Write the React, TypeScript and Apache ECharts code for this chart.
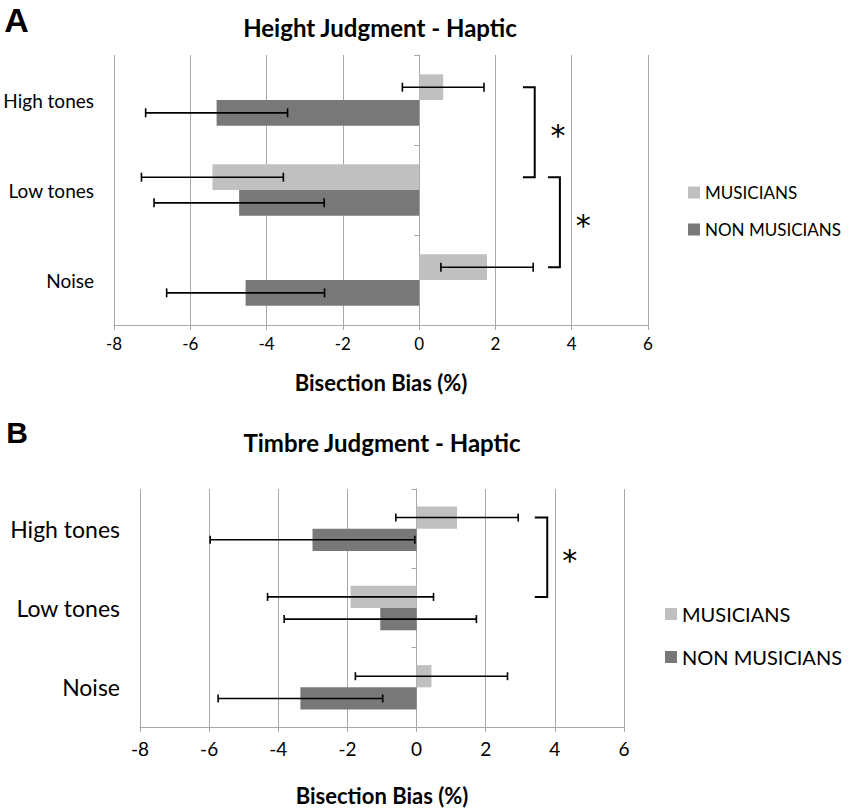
import React, { useEffect, useRef } from "react";
import * as echarts from "echarts";

const CATEGORIES = ["High tones", "Low tones", "Noise"];
const GROUPS = ["MUSICIANS", "NON MUSICIANS"];
const X_MIN = -8;
const X_MAX = 6;
const X_STEP = 2;

// Panel A: Height Judgment - Haptic
const A_MUS = [0.63, -5.42, 1.78];
const A_MUS_ERR = [1.07, 1.86, 1.21];
const A_NON = [-5.31, -4.72, -4.55];
const A_NON_ERR = [1.86, 2.23, 2.07];
// significance brackets: [fromCategory, toCategory, lineX, tipX, starX]
const A_SIG = [
  [0, 1, 3.03, 2.72, 3.64],
  [1, 2, 3.69, 3.38, 4.3],
];

// Panel B: Timbre Judgment - Haptic
const B_MUS = [1.17, -1.91, 0.43];
const B_MUS_ERR = [1.77, 2.4, 2.2];
const B_NON = [-3.01, -1.05, -3.36];
const B_NON_ERR = [2.96, 2.78, 2.38];
const B_SIG = [[0, 1, 3.78, 3.42, 4.43]];

const LIGHT = "#c0c0c0";
const DARK = "#787878";
const GRIDC = "#a8a8a8";
const FONT = "Lato, 'Open Sans', sans-serif";

function errRender(slot: number, gap: number, cap: number) {
  return (params: any, api: any) => {
    const v = api.value(0);
    const c = api.value(1);
    const e = api.value(2);
    const band = Math.abs(api.size([0, 1])[1]);
    const bw = (band * (1 - gap)) / 2;
    const off = -bw + bw * (slot + 0.5);
    const a = api.coord([v - e, c]);
    const b = api.coord([v + e, c]);
    const y = a[1] + off;
    const st = { stroke: "#000", lineWidth: 1.6 };
    return {
      type: "group",
      children: [
        { type: "line", shape: { x1: a[0], y1: y, x2: b[0], y2: y }, style: st },
        { type: "line", shape: { x1: a[0], y1: y - cap, x2: a[0], y2: y + cap }, style: st },
        { type: "line", shape: { x1: b[0], y1: y - cap, x2: b[0], y2: y + cap }, style: st },
      ],
    };
  };
}

function sigRender(gap: number, starSize: number) {
  return (params: any, api: any) => {
    const from = api.value(0);
    const to = api.value(1);
    const lx = api.value(2);
    const tx = api.value(3);
    const sx = api.value(4);
    const band = Math.abs(api.size([0, 1])[1]);
    const bw = (band * (1 - gap)) / 2;
    const off = -bw / 2;
    const p1 = api.coord([lx, from]);
    const p2 = api.coord([lx, to]);
    const pt = api.coord([tx, from]);
    const ps = api.coord([sx, from]);
    const y1 = p1[1] + off;
    const y2 = p2[1] + off;
    return {
      type: "group",
      children: [
        {
          type: "polyline",
          shape: { points: [[pt[0], y1], [p1[0], y1], [p1[0], y2], [pt[0], y2]] },
          style: { stroke: "#000", lineWidth: 2, fill: "none" },
        },
        {
          type: "text",
          x: ps[0],
          y: (y1 + y2) / 2 + starSize * 0.12,
          style: {
            text: "*",
            fontSize: starSize,
            fontFamily: "'DejaVu Sans', sans-serif",
            fill: "#000",
            align: "center",
            verticalAlign: "middle",
          },
        },
      ],
    };
  };
}

type PanelCfg = {
  mus: number[];
  musErr: number[];
  non: number[];
  nonErr: number[];
  sig: number[][];
  gap: number;
  cap: number;
  labelSize: number;
  tickSize: number;
  tickMargin: number;
  nameSize: number;
  nameGap: number;
  starSize: number;
};

function buildPanel(i: number, p: PanelCfg) {
  const xAxis = {
    gridIndex: i,
    type: "value",
    min: X_MIN,
    max: X_MAX,
    interval: X_STEP,
    name: "Bisection Bias (%)",
    nameLocation: "middle",
    nameGap: p.nameGap,
    nameTextStyle: { fontSize: p.nameSize, fontWeight: "bold", color: "#000", fontFamily: FONT },
    axisLine: { show: true, lineStyle: { color: GRIDC, width: 1 } },
    axisTick: { show: true, length: 5, lineStyle: { color: GRIDC } },
    axisLabel: { fontSize: p.tickSize, color: "#000", margin: p.tickMargin, fontFamily: FONT },
    splitLine: { show: true, lineStyle: { color: GRIDC, width: 1 } },
  };
  const yLabel = {
    gridIndex: i,
    type: "category",
    data: CATEGORIES,
    inverse: true,
    position: "left",
    axisLine: { show: false, onZero: false },
    axisTick: { show: false },
    axisLabel: { fontSize: p.labelSize, color: "#000", margin: 20, fontFamily: FONT },
    splitLine: { show: false },
  };
  const yTick = {
    gridIndex: i,
    type: "category",
    data: CATEGORIES,
    inverse: true,
    position: "left",
    axisLine: { show: true, onZero: true, lineStyle: { color: GRIDC, width: 1 } },
    axisTick: { show: true, length: 5, lineStyle: { color: GRIDC } },
    axisLabel: { show: false },
    splitLine: { show: false },
  };
  const gapPct = Math.round(p.gap * 100) + "%";
  const series: any[] = [
    {
      type: "bar",
      name: GROUPS[0],
      xAxisIndex: i,
      yAxisIndex: i * 2,
      data: p.mus,
      itemStyle: { color: LIGHT },
      barGap: "0%",
      barCategoryGap: gapPct,
    },
    {
      type: "bar",
      name: GROUPS[1],
      xAxisIndex: i,
      yAxisIndex: i * 2,
      data: p.non,
      itemStyle: { color: DARK },
      barGap: "0%",
      barCategoryGap: gapPct,
    },
    {
      type: "custom",
      xAxisIndex: i,
      yAxisIndex: i * 2,
      data: p.mus.map((v, k) => [v, k, p.musErr[k]]),
      encode: { x: 0, y: 1 },
      renderItem: errRender(0, p.gap, p.cap),
      z: 5,
      silent: true,
    },
    {
      type: "custom",
      xAxisIndex: i,
      yAxisIndex: i * 2,
      data: p.non.map((v, k) => [v, k, p.nonErr[k]]),
      encode: { x: 0, y: 1 },
      renderItem: errRender(1, p.gap, p.cap),
      z: 5,
      silent: true,
    },
    {
      type: "custom",
      xAxisIndex: i,
      yAxisIndex: i * 2,
      data: p.sig,
      encode: { x: 2, y: 0 },
      renderItem: sigRender(p.gap, p.starSize),
      z: 5,
      silent: true,
      clip: false,
    },
  ];
  return { xAxis, yAxes: [yLabel, yTick], series };
}

export default function App() {
  const ref = useRef<HTMLDivElement>(null);
  useEffect(() => {
    if (!ref.current) return;
    const chart = echarts.init(ref.current, undefined, { renderer: "svg" });
    const pa = buildPanel(0, {
      mus: A_MUS,
      musErr: A_MUS_ERR,
      non: A_NON,
      nonErr: A_NON_ERR,
      sig: A_SIG,
      gap: 0.43,
      cap: 4.5,
      labelSize: 19,
      tickSize: 17,
      tickMargin: 10,
      nameSize: 22,
      nameGap: 46,
      starSize: 30,
    });
    const pb = buildPanel(1, {
      mus: B_MUS,
      musErr: B_MUS_ERR,
      non: B_NON,
      nonErr: B_NON_ERR,
      sig: B_SIG,
      gap: 0.44,
      cap: 4,
      labelSize: 23,
      tickSize: 19,
      tickMargin: 12,
      nameSize: 22,
      nameGap: 57,
      starSize: 30,
    });
    chart.setOption({
      animation: false,
      backgroundColor: "#fff",
      textStyle: { fontFamily: FONT },
      grid: [
        { left: 114, top: 55, width: 534, height: 270, containLabel: false },
        { left: 140, top: 489, width: 484, height: 238, containLabel: false },
      ],
      xAxis: [pa.xAxis, pb.xAxis],
      yAxis: [...pa.yAxes, ...pb.yAxes],
      legend: [
        {
          data: GROUPS,
          left: 683,
          top: 179,
          orient: "vertical",
          icon: "rect",
          itemWidth: 12,
          itemHeight: 12,
          itemGap: 20,
          selectedMode: false,
          textStyle: { fontSize: 17, color: "#000", fontFamily: FONT },
        },
        {
          data: GROUPS,
          left: 660,
          top: 599,
          orient: "vertical",
          icon: "rect",
          itemWidth: 12,
          itemHeight: 12,
          itemGap: 23,
          selectedMode: false,
          textStyle: { fontSize: 20, color: "#000", fontFamily: FONT },
        },
      ],
      graphic: [
        {
          type: "text",
          x: 16.5,
          y: 19.5,
          style: {
            text: "A",
            fontSize: 34,
            fontWeight: "bold",
            fontFamily: "'Liberation Sans', Arial, sans-serif",
            fill: "#000",
            align: "center",
            verticalAlign: "middle",
          },
        },
        {
          type: "text",
          x: 17,
          y: 432,
          style: {
            text: "B",
            fontSize: 30,
            fontWeight: "bold",
            fontFamily: "'Liberation Sans', Arial, sans-serif",
            fill: "#000",
            align: "center",
            verticalAlign: "middle",
          },
        },
        {
          type: "text",
          x: 380,
          y: 27,
          style: {
            text: "Height Judgment - Haptic",
            fontSize: 24,
            fontWeight: "bold",
            fontFamily: FONT,
            fill: "#000",
            align: "center",
            verticalAlign: "middle",
          },
        },
        {
          type: "text",
          x: 382,
          y: 442,
          style: {
            text: "Timbre Judgment - Haptic",
            fontSize: 24,
            fontWeight: "bold",
            fontFamily: FONT,
            fill: "#000",
            align: "center",
            verticalAlign: "middle",
          },
        },
      ],
      series: [...pa.series, ...pb.series],
    });
    return () => chart.dispose();
  }, []);
  return (
    <div
      ref={ref}
      style={{ position: "fixed", left: 0, top: 0, width: 850, height: 810, background: "#fff" }}
    />
  );
}
